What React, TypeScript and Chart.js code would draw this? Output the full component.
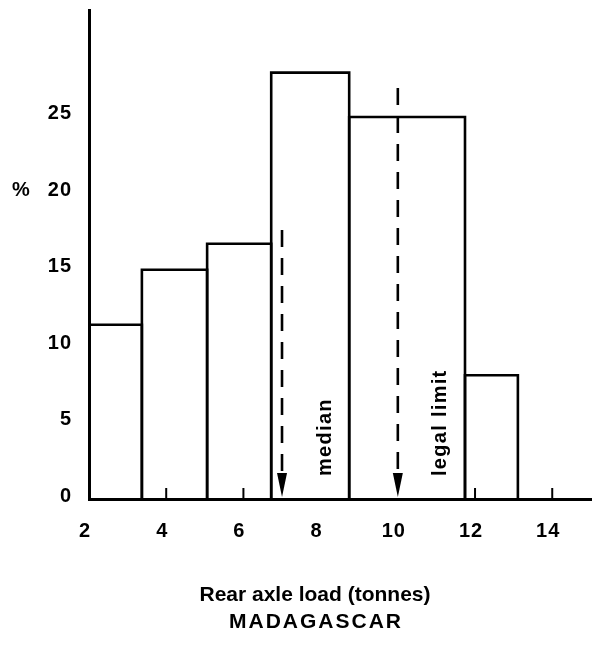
import React, { useEffect, useRef } from "react";
import { Chart, registerables } from "chart.js";

Chart.register(...registerables);

// ---- data ----
const binEdges = [2, 3.37, 5.06, 6.72, 8.74, 11.74, 13.11];
const binPercents = [11.4, 15.0, 16.7, 27.9, 25.0, 8.1];
const xTickValues = [2, 4, 6, 8, 10, 12, 14];
const yTickValues = [0, 5, 10, 15, 20, 25];
const minorTickValues = [4, 6, 12, 14];
const markerLabels = ["median", "legal limit"];
const markerValues = [7, 10];
const markerTops = [17.6, 26.9];
const xTitle = "Rear axle load (tonnes)";
const countryName = "MADAGASCAR";
const yUnit = "%";

const FONT = "'Liberation Sans', Arial, Helvetica, sans-serif";

const extrasPlugin = {
  id: "extras",
  beforeDraw(chart: any) {
    chart.ctx.letterSpacing = "1px";
  },
  afterDraw(chart: any) {
    const ctx = chart.ctx;
    const xs = chart.scales.x;
    const ys = chart.scales.y;
    const base = ys.getPixelForValue(0);
    ctx.save();
    ctx.fillStyle = "#000";
    ctx.strokeStyle = "#000";
    // minor ticks pointing up from the x axis
    ctx.lineWidth = 2;
    minorTickValues.forEach((v) => {
      const px = xs.getPixelForValue(v);
      ctx.beginPath();
      ctx.moveTo(px, base);
      ctx.lineTo(px, base - 11);
      ctx.stroke();
    });
    // arrow heads + rotated labels
    markerValues.forEach((v, i) => {
      const px = xs.getPixelForValue(v);
      ctx.beginPath();
      ctx.moveTo(px - 5, base - 26);
      ctx.lineTo(px + 5, base - 26);
      ctx.lineTo(px, base - 2);
      ctx.closePath();
      ctx.fill();
      ctx.save();
      ctx.translate(px + 43, base - 23);
      ctx.rotate(-Math.PI / 2);
      ctx.font = `bold 20px ${FONT}`;
      ctx.letterSpacing = "1.3px";
      ctx.textAlign = "left";
      ctx.textBaseline = "middle";
      ctx.fillText(markerLabels[i], 0, 0);
      ctx.restore();
    });
    // y unit
    ctx.font = `bold 20px ${FONT}`;
    ctx.letterSpacing = "0px";
    ctx.textAlign = "center";
    ctx.textBaseline = "middle";
    ctx.fillText(yUnit, 13, ys.getPixelForValue(20) - 3);
    // titles
    ctx.font = `bold 21px ${FONT}`;
    ctx.letterSpacing = "0px";
    ctx.fillText(xTitle, 307, 587);
    ctx.letterSpacing = "2px";
    ctx.fillText(countryName, 308, 614);
    ctx.restore();
  },
};

export default function App() {
  const ref = useRef<HTMLCanvasElement | null>(null);
  useEffect(() => {
    if (!ref.current) return;
    const binSets = binPercents.map((h, i) => ({
      label: `bin${i}`,
      data: [
        { x: binEdges[i], y: 0 },
        { x: binEdges[i], y: h },
        { x: binEdges[i + 1], y: h },
        { x: binEdges[i + 1], y: 0 },
      ],
      showLine: true,
      borderColor: "#000",
      borderWidth: 2.6,
      borderJoinStyle: "miter" as const,
      pointRadius: 0,
      fill: false,
      tension: 0,
    }));
    const markerSets = markerValues.map((v, i) => ({
      label: markerLabels[i],
      data: [
        { x: v, y: markerTops[i] },
        { x: v, y: 1.5 },
      ],
      showLine: true,
      borderColor: "#000",
      borderWidth: 2.6,
      borderDash: [17, 11],
      pointRadius: 0,
      fill: false,
    }));
    const chart = new Chart(ref.current, {
      type: "scatter",
      data: { datasets: [...binSets, ...markerSets] as any },
      options: {
        animation: false,
        responsive: true,
        maintainAspectRatio: false,
        layout: { padding: { top: 2, right: 0, left: 0, bottom: 0 } },
        plugins: { legend: { display: false }, tooltip: { enabled: false }, title: { display: false } },
        scales: {
          x: {
            type: "linear",
            min: 2,
            max: 15.03,
            afterBuildTicks: (s: any) => {
              s.ticks = xTickValues.map((v) => ({ value: v }));
            },
            afterFit: (s: any) => {
              s.height = 148;
              s.paddingLeft = 0;
              s.paddingRight = 0;
            },
            grid: { display: false, drawTicks: false },
            border: { display: true, color: "#000", width: 3 },
            ticks: {
              color: "#000",
              font: { family: FONT, size: 20, weight: "bold" },
              padding: 20,
              labelOffset: -4,
              maxRotation: 0,
              autoSkip: false,
            },
          },
          y: {
            type: "linear",
            min: 0,
            max: 32,
            afterBuildTicks: (s: any) => {
              s.ticks = yTickValues.map((v) => ({ value: v }));
            },
            afterFit: (s: any) => {
              s.width = 81;
              s.paddingTop = 0;
              s.paddingBottom = 0;
            },
            grid: { display: false, drawTicks: false },
            border: { display: true, color: "#000", width: 3 },
            ticks: {
              color: "#000",
              font: { family: FONT, size: 20, weight: "bold" },
              padding: 17,
              labelOffset: -3,
              autoSkip: false,
            },
          },
        },
      },
      plugins: [extrasPlugin],
    });
    return () => chart.destroy();
  }, []);
  return (
    <div style={{ position: "relative", width: "584px", height: "639px" }}>
      <canvas ref={ref} />
    </div>
  );
}
